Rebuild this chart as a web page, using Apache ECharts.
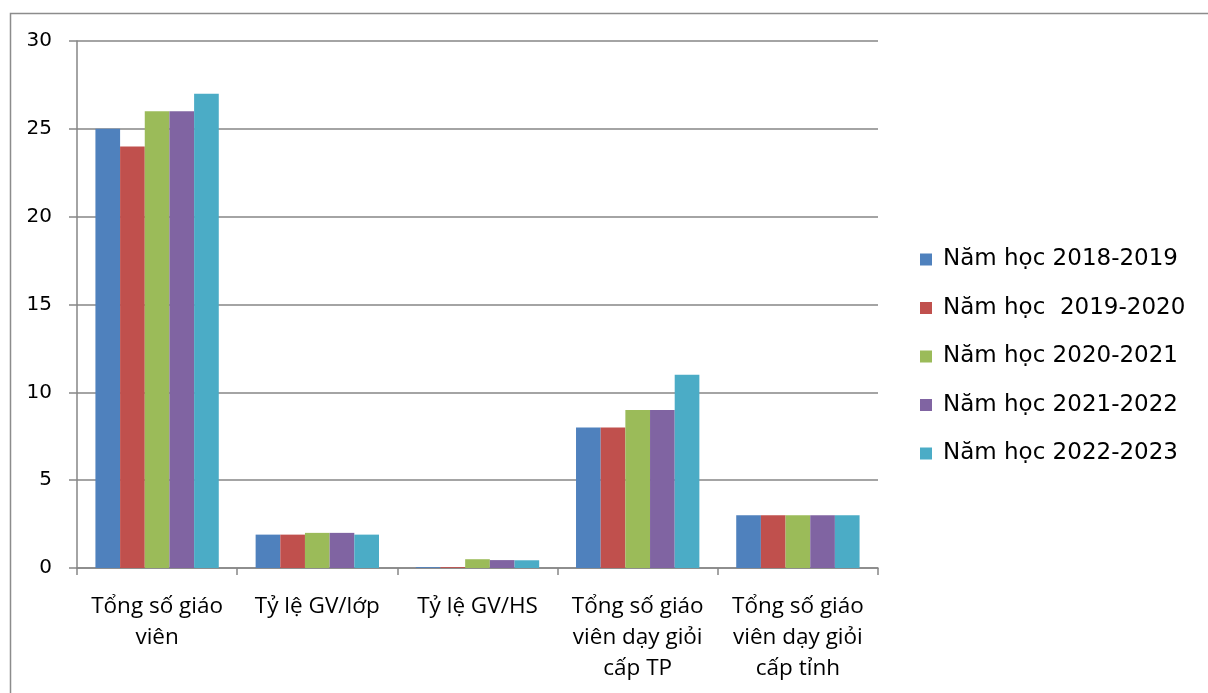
<!DOCTYPE html>
<html>
<head>
<meta charset="utf-8">
<script src="https://cdn.jsdelivr.net/npm/echarts@6/dist/echarts.min.js"></script>
<style>html,body{margin:0;padding:0;background:#fff;}#c{width:1208px;height:693px;}</style>
</head>
<body>
<div id="c"></div>
<script>
const categories = ['Tổng số giáo\nviên', 'Tỷ lệ GV/lớp', 'Tỷ lệ GV/HS', 'Tổng số giáo\nviên dạy giỏi\ncấp TP', 'Tổng số giáo\nviên dạy giỏi\ncấp tỉnh'];
const seriesNames = ['Năm học 2018-2019', 'Năm học  2019-2020', 'Năm học 2020-2021', 'Năm học 2021-2022', 'Năm học 2022-2023'];
const v2018 = [25, 1.9, 0.05, 8, 3];
const v2019 = [24, 1.9, 0.05, 8, 3];
const v2020 = [26, 2.0, 0.5, 9, 3];
const v2021 = [26, 2.0, 0.45, 9, 3];
const v2022 = [27, 1.9, 0.44, 11, 3];
const colors = ['#4F81BD', '#C0504D', '#9BBB59', '#8064A2', '#4BACC6'];
const yTicks = [0, 5, 10, 15, 20, 25, 30];

const allValues = [v2018, v2019, v2020, v2021, v2022];
const chart = echarts.init(document.getElementById('c'), null, {renderer: 'canvas'});
chart.setOption({
  animation: false,
  color: colors,
  graphic: [{
    type: 'rect', left: 8, top: 11, silent: true,
    shape: {width: 1230, height: 720},
    style: {fill: 'none', stroke: '#8c8c8c', lineWidth: 1.5}
  }],
  grid: {left: 77, top: 41, right: 330, bottom: 125, containLabel: false},
  legend: {
    orient: 'vertical', left: 920, top: 248, padding: 0,
    itemWidth: 12, itemHeight: 12, itemGap: 25.5,
    icon: 'rect',
    textStyle: {fontFamily: 'DejaVu Sans', fontSize: 23, color: '#000', lineHeight: 23, padding: [0,0,0,6]},
    data: seriesNames
  },
  xAxis: {
    type: 'category', data: categories,
    axisLine: {lineStyle: {color: '#868686', width: 1.5}},
    axisTick: {show: true, length: 7, lineStyle: {color: '#868686', width: 1.5}},
    axisLabel: {fontFamily: 'Open Sans, Noto Sans', fontSize: 22.5, color: '#000', lineHeight: 31, margin: 23, interval: 0}
  },
  yAxis: {
    type: 'value', min: yTicks[0], max: yTicks[yTicks.length-1], interval: 5,
    axisLine: {show: true, lineStyle: {color: '#868686', width: 1.5}},
    axisTick: {show: true, length: 8, lineStyle: {color: '#868686', width: 1.5}},
    splitLine: {lineStyle: {color: '#868686', width: 1.5}},
    axisLabel: {fontFamily: 'DejaVu Sans', fontSize: 20, color: '#000', margin: 25}
  },
  series: seriesNames.map((n, i) => ({
    name: n, type: 'bar', data: allValues[i],
    barGap: '0%', barCategoryGap: '23%',
    itemStyle: {color: colors[i]}
  }))
});
</script>
</body>
</html>
